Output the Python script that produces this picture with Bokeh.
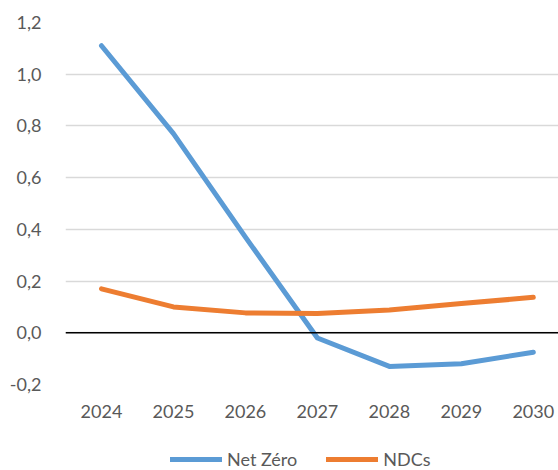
from bokeh.plotting import figure
from bokeh.layouts import column
from bokeh.models import FixedTicker, Span, Legend, LegendItem, ColumnDataSource, Range1d
from bokeh.embed import file_html
from bokeh.resources import INLINE

years = ["2024", "2025", "2026", "2027", "2028", "2029", "2030"]
net_zero = [1.11, 0.77, 0.37, -0.02, -0.13, -0.12, -0.075]
ndcs = [0.17, 0.10, 0.077, 0.075, 0.088, 0.113, 0.137]
y_ticks = [-0.2, 0.0, 0.2, 0.4, 0.6, 0.8, 1.0, 1.2]
y_labels = ["-0,2", "0,0", "0,2", "0,4", "0,6", "0,8", "1,0", "1,2"]
series_names = ["Net Zéro", "NDCs"]
series_colors = ["#5B9BD5", "#ED7D31"]

xs = list(range(len(years)))
src = ColumnDataSource(dict(x=xs, nz=net_zero, ndc=ndcs))

FONT = "Lato"
GREY = "#595959"

p = figure(width=558, height=430, output_backend="svg", toolbar_location=None,
           x_range=Range1d(-0.5, 6.35), y_range=Range1d(-0.2, 1.2),
           min_border_left=65, min_border_right=0, min_border_top=22, min_border_bottom=46)
p.outline_line_color = None

p.line("x", "nz", source=src, line_color=series_colors[0], line_width=5, line_cap="round", line_join="round")
p.line("x", "ndc", source=src, line_color=series_colors[1], line_width=5, line_cap="round", line_join="round")

p.add_layout(Span(location=0, dimension="width", line_color="black", line_width=1.5), "center")

p.xgrid.grid_line_color = None
p.ygrid.grid_line_color = "#D9D9D9"
p.ygrid.grid_line_width = 1.3
p.yaxis.ticker = FixedTicker(ticks=y_ticks)
p.yaxis.major_label_overrides = dict(zip(y_ticks, y_labels))
p.xaxis.ticker = FixedTicker(ticks=xs)
p.xaxis.major_label_overrides = dict(zip(xs, years))

for ax in (p.xaxis, p.yaxis):
    ax.axis_line_color = None
    ax.major_tick_line_color = None
    ax.minor_tick_line_color = None
    ax.major_label_text_font = FONT
    ax.major_label_text_font_size = "18px"
    ax.major_label_text_color = GREY
p.xaxis.major_label_standoff = 14
p.yaxis.major_label_standoff = 18

# legend strip under the chart
lg = figure(width=558, height=40, output_backend="svg", toolbar_location=None,
            x_range=Range1d(0, 1), y_range=Range1d(0, 1),
            x_axis_type=None, y_axis_type=None,
            min_border_left=65, min_border_right=0, min_border_top=0, min_border_bottom=0)
lg.outline_line_color = None
lg.xgrid.grid_line_color = None
lg.ygrid.grid_line_color = None
nan = float("nan")
items = []
for name, col in zip(series_names, series_colors):
    rr = lg.line(x=[nan], y=[nan], line_color=col, line_width=5, line_cap="round")
    items.append(LegendItem(label=name, renderers=[rr]))
legend = Legend(items=items, location=(105, 0), orientation="horizontal",
                label_text_font=FONT, label_text_font_size="18px", label_text_color=GREY,
                glyph_width=52, glyph_height=18, label_height=18, label_standoff=5,
                spacing=29, padding=0, margin=0, border_line_color=None,
                background_fill_alpha=0)
lg.add_layout(legend, "center")

open("out.html", "w").write(file_html(column(p, lg, spacing=0), INLINE))
